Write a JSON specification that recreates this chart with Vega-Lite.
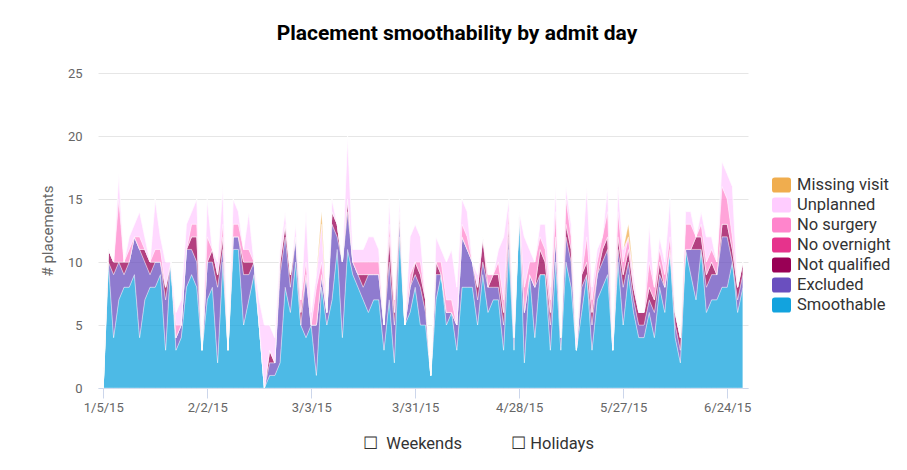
{
  "$schema": "https://vega.github.io/schema/vega-lite/v6.json",
  "width": 650,
  "height": 315,
  "autosize": {"type": "none"},
  "padding": {"left": 98, "top": 73, "right": 159, "bottom": 82},
  "background": "white",
  "title": {"text": "Placement smoothability by admit day", "font": "Roboto", "fontSize": 21, "fontWeight": "bold", "color": "#000000", "anchor": "middle", "dx": 34, "offset": 23},
  "datasets": {
    "ord": [
      {"k": "S", "name": "Smoothable", "o": 0},
      {"k": "E", "name": "Excluded", "o": 1},
      {"k": "Q", "name": "Not qualified", "o": 2},
      {"k": "O", "name": "No overnight", "o": 3},
      {"k": "N", "name": "No surgery", "o": 4},
      {"k": "U", "name": "Unplanned", "o": 5},
      {"k": "M", "name": "Missing visit", "o": 6}
    ],
    "t": [
      {"d": "1/5/15", "S": 0, "E": 0, "Q": 0, "O": 0, "N": 0, "U": 0, "M": 0},
      {"d": "1/6/15", "S": 10, "E": 0, "Q": 1, "O": 0, "N": 0, "U": 0, "M": 0},
      {"d": "1/7/15", "S": 4, "E": 5, "Q": 1, "O": 0, "N": 0, "U": 0, "M": 0},
      {"d": "1/8/15", "S": 7, "E": 3, "Q": 0, "O": 0, "N": 5, "U": 2, "M": 0},
      {"d": "1/9/15", "S": 8, "E": 1, "Q": 1, "O": 0, "N": 0, "U": 0, "M": 0},
      {"d": "1/12/15", "S": 8, "E": 2, "Q": 0, "O": 0, "N": 1, "U": 1, "M": 0},
      {"d": "1/13/15", "S": 9, "E": 3, "Q": 0, "O": 0, "N": 0, "U": 1, "M": 0},
      {"d": "1/14/15", "S": 4, "E": 7, "Q": 0, "O": 0, "N": 1, "U": 2, "M": 0},
      {"d": "1/15/15", "S": 7, "E": 3, "Q": 1, "O": 0, "N": 0, "U": 1, "M": 0},
      {"d": "1/16/15", "S": 8, "E": 1, "Q": 1, "O": 0, "N": 0, "U": 0, "M": 0},
      {"d": "1/19/15", "S": 8, "E": 2, "Q": 0, "O": 0, "N": 1, "U": 4, "M": 0},
      {"d": "1/20/15", "S": 9, "E": 1, "Q": 0, "O": 0, "N": 1, "U": 1, "M": 0},
      {"d": "1/21/15", "S": 3, "E": 4, "Q": 1, "O": 0, "N": 0, "U": 2, "M": 0},
      {"d": "1/22/15", "S": 10, "E": 0, "Q": 0, "O": 0, "N": 0, "U": 0, "M": 0},
      {"d": "1/23/15", "S": 3, "E": 1, "Q": 0, "O": 0, "N": 1, "U": 1, "M": 0},
      {"d": "1/26/15", "S": 4, "E": 1, "Q": 0, "O": 0, "N": 0, "U": 2, "M": 0},
      {"d": "1/27/15", "S": 8, "E": 3, "Q": 0, "O": 0, "N": 0, "U": 2, "M": 0},
      {"d": "1/28/15", "S": 9, "E": 2, "Q": 1, "O": 0, "N": 1, "U": 1, "M": 0},
      {"d": "1/29/15", "S": 8, "E": 2, "Q": 2, "O": 0, "N": 1, "U": 2, "M": 0},
      {"d": "1/30/15", "S": 3, "E": 0, "Q": 0, "O": 0, "N": 0, "U": 0, "M": 0},
      {"d": "2/2/15", "S": 7, "E": 3, "Q": 0, "O": 0, "N": 2, "U": 3, "M": 0},
      {"d": "2/3/15", "S": 8, "E": 2, "Q": 1, "O": 0, "N": 0, "U": 0, "M": 0},
      {"d": "2/4/15", "S": 2, "E": 6, "Q": 1, "O": 0, "N": 0, "U": 1, "M": 0},
      {"d": "2/5/15", "S": 10, "E": 1, "Q": 1, "O": 0, "N": 1, "U": 3, "M": 0},
      {"d": "2/6/15", "S": 3, "E": 0, "Q": 0, "O": 0, "N": 0, "U": 0, "M": 0},
      {"d": "2/9/15", "S": 11, "E": 1, "Q": 0, "O": 0, "N": 1, "U": 2, "M": 0},
      {"d": "2/10/15", "S": 11, "E": 1, "Q": 0, "O": 0, "N": 1, "U": 1, "M": 0},
      {"d": "2/11/15", "S": 5, "E": 4, "Q": 1, "O": 0, "N": 1, "U": 0, "M": 0},
      {"d": "2/12/15", "S": 7, "E": 2, "Q": 1, "O": 0, "N": 1, "U": 3, "M": 0},
      {"d": "2/13/15", "S": 9, "E": 1, "Q": 0, "O": 0, "N": 0, "U": 0, "M": 0},
      {"d": "2/17/15", "S": 5, "E": 0, "Q": 0, "O": 0, "N": 0, "U": 2, "M": 0},
      {"d": "2/18/15", "S": 0, "E": 0, "Q": 0, "O": 0, "N": 0, "U": 5, "M": 0},
      {"d": "2/19/15", "S": 1, "E": 1, "Q": 1, "O": 0, "N": 0, "U": 2, "M": 0},
      {"d": "2/20/15", "S": 1, "E": 1, "Q": 0, "O": 0, "N": 0, "U": 2, "M": 0},
      {"d": "2/23/15", "S": 2, "E": 7, "Q": 1, "O": 0, "N": 0, "U": 1, "M": 0},
      {"d": "2/24/15", "S": 8, "E": 4, "Q": 1, "O": 0, "N": 0, "U": 1, "M": 0},
      {"d": "2/25/15", "S": 6, "E": 2, "Q": 1, "O": 0, "N": 0, "U": 0, "M": 0},
      {"d": "2/26/15", "S": 10, "E": 2, "Q": 0, "O": 0, "N": 0, "U": 1, "M": 0},
      {"d": "2/27/15", "S": 5, "E": 0, "Q": 1, "O": 0, "N": 1, "U": 0, "M": 0},
      {"d": "3/2/15", "S": 4, "E": 5, "Q": 0, "O": 0, "N": 1, "U": 4, "M": 0},
      {"d": "3/3/15", "S": 5, "E": 0, "Q": 0, "O": 0, "N": 0, "U": 1, "M": 0},
      {"d": "3/4/15", "S": 1, "E": 4, "Q": 0, "O": 0, "N": 3, "U": 1, "M": 0},
      {"d": "3/5/15", "S": 8, "E": 1, "Q": 0, "O": 0, "N": 1, "U": 3, "M": 1},
      {"d": "3/6/15", "S": 5, "E": 1, "Q": 0, "O": 0, "N": 0, "U": 0, "M": 0},
      {"d": "3/9/15", "S": 7, "E": 6, "Q": 1, "O": 0, "N": 0, "U": 1, "M": 0},
      {"d": "3/10/15", "S": 11, "E": 1, "Q": 1, "O": 0, "N": 0, "U": 0, "M": 0},
      {"d": "3/11/15", "S": 4, "E": 6, "Q": 0, "O": 0, "N": 0, "U": 0, "M": 0},
      {"d": "3/12/15", "S": 11, "E": 3, "Q": 1, "O": 0, "N": 0, "U": 5, "M": 0},
      {"d": "3/13/15", "S": 9, "E": 1, "Q": 0, "O": 0, "N": 0, "U": 1, "M": 0},
      {"d": "3/16/15", "S": 8, "E": 1, "Q": 0, "O": 0, "N": 1, "U": 1, "M": 0},
      {"d": "3/17/15", "S": 7, "E": 1, "Q": 1, "O": 0, "N": 1, "U": 1, "M": 0},
      {"d": "3/18/15", "S": 6, "E": 3, "Q": 0, "O": 0, "N": 1, "U": 2, "M": 0},
      {"d": "3/19/15", "S": 7, "E": 2, "Q": 0, "O": 0, "N": 1, "U": 2, "M": 0},
      {"d": "3/20/15", "S": 7, "E": 2, "Q": 0, "O": 0, "N": 1, "U": 1, "M": 0},
      {"d": "3/23/15", "S": 3, "E": 2, "Q": 0, "O": 0, "N": 0, "U": 0, "M": 0},
      {"d": "3/24/15", "S": 7, "E": 3, "Q": 2, "O": 0, "N": 1, "U": 2, "M": 0},
      {"d": "3/25/15", "S": 2, "E": 3, "Q": 1, "O": 0, "N": 1, "U": 0, "M": 0},
      {"d": "3/26/15", "S": 12, "E": 1, "Q": 1, "O": 0, "N": 0, "U": 1, "M": 0},
      {"d": "3/27/15", "S": 5, "E": 0, "Q": 0, "O": 0, "N": 0, "U": 0, "M": 0},
      {"d": "3/30/15", "S": 6, "E": 2, "Q": 0, "O": 0, "N": 1, "U": 3, "M": 0},
      {"d": "3/31/15", "S": 8, "E": 1, "Q": 1, "O": 0, "N": 0, "U": 3, "M": 0},
      {"d": "4/1/15", "S": 5, "E": 3, "Q": 1, "O": 0, "N": 1, "U": 2, "M": 0},
      {"d": "4/2/15", "S": 5, "E": 1, "Q": 1, "O": 0, "N": 0, "U": 0, "M": 0},
      {"d": "4/3/15", "S": 1, "E": 0, "Q": 0, "O": 0, "N": 0, "U": 0, "M": 0},
      {"d": "4/6/15", "S": 7, "E": 2, "Q": 1, "O": 0, "N": 0, "U": 2, "M": 0},
      {"d": "4/7/15", "S": 9, "E": 0, "Q": 0, "O": 0, "N": 1, "U": 1, "M": 0},
      {"d": "4/8/15", "S": 5, "E": 1, "Q": 0, "O": 0, "N": 1, "U": 3, "M": 0},
      {"d": "4/9/15", "S": 6, "E": 0, "Q": 0, "O": 0, "N": 1, "U": 4, "M": 0},
      {"d": "4/10/15", "S": 3, "E": 2, "Q": 0, "O": 0, "N": 0, "U": 3, "M": 0},
      {"d": "4/13/15", "S": 8, "E": 4, "Q": 0, "O": 0, "N": 1, "U": 2, "M": 0},
      {"d": "4/14/15", "S": 8, "E": 3, "Q": 0, "O": 0, "N": 1, "U": 2, "M": 0},
      {"d": "4/15/15", "S": 8, "E": 2, "Q": 0, "O": 0, "N": 0, "U": 0, "M": 0},
      {"d": "4/16/15", "S": 5, "E": 2, "Q": 1, "O": 0, "N": 0, "U": 1, "M": 0},
      {"d": "4/17/15", "S": 9, "E": 1, "Q": 2, "O": 0, "N": 0, "U": 0, "M": 0},
      {"d": "4/20/15", "S": 6, "E": 2, "Q": 0, "O": 0, "N": 1, "U": 0, "M": 0},
      {"d": "4/21/15", "S": 7, "E": 1, "Q": 1, "O": 0, "N": 0, "U": 0, "M": 0},
      {"d": "4/22/15", "S": 7, "E": 1, "Q": 1, "O": 0, "N": 1, "U": 1, "M": 0},
      {"d": "4/23/15", "S": 3, "E": 2, "Q": 1, "O": 0, "N": 1, "U": 5, "M": 0},
      {"d": "4/24/15", "S": 11, "E": 1, "Q": 1, "O": 0, "N": 1, "U": 1, "M": 0},
      {"d": "4/27/15", "S": 3, "E": 1, "Q": 0, "O": 0, "N": 0, "U": 1, "M": 0},
      {"d": "4/28/15", "S": 14, "E": 0, "Q": 0, "O": 0, "N": 0, "U": 0, "M": 0},
      {"d": "4/29/15", "S": 2, "E": 4, "Q": 0, "O": 0, "N": 2, "U": 4, "M": 0},
      {"d": "4/30/15", "S": 9, "E": 0, "Q": 0, "O": 0, "N": 1, "U": 1, "M": 0},
      {"d": "5/1/15", "S": 4, "E": 4, "Q": 0, "O": 0, "N": 2, "U": 0, "M": 0},
      {"d": "5/4/15", "S": 9, "E": 0, "Q": 2, "O": 0, "N": 1, "U": 1, "M": 0},
      {"d": "5/5/15", "S": 9, "E": 0, "Q": 1, "O": 0, "N": 1, "U": 2, "M": 0},
      {"d": "5/6/15", "S": 3, "E": 2, "Q": 1, "O": 0, "N": 1, "U": 1, "M": 0},
      {"d": "5/7/15", "S": 10, "E": 2, "Q": 0, "O": 0, "N": 2, "U": 2, "M": 0},
      {"d": "5/8/15", "S": 3, "E": 1, "Q": 0, "O": 0, "N": 0, "U": 0, "M": 0},
      {"d": "5/11/15", "S": 10, "E": 2, "Q": 1, "O": 0, "N": 2, "U": 1, "M": 0},
      {"d": "5/12/15", "S": 8, "E": 2, "Q": 1, "O": 0, "N": 1, "U": 1, "M": 0},
      {"d": "5/13/15", "S": 3, "E": 0, "Q": 0, "O": 0, "N": 0, "U": 1, "M": 0},
      {"d": "5/14/15", "S": 6, "E": 2, "Q": 1, "O": 0, "N": 0, "U": 1, "M": 0},
      {"d": "5/15/15", "S": 9, "E": 0, "Q": 1, "O": 0, "N": 2, "U": 4, "M": 0},
      {"d": "5/18/15", "S": 3, "E": 2, "Q": 1, "O": 0, "N": 1, "U": 1, "M": 0},
      {"d": "5/19/15", "S": 7, "E": 2, "Q": 0, "O": 0, "N": 1, "U": 1, "M": 0},
      {"d": "5/20/15", "S": 8, "E": 2, "Q": 1, "O": 0, "N": 1, "U": 0, "M": 0},
      {"d": "5/21/15", "S": 9, "E": 2, "Q": 1, "O": 0, "N": 2, "U": 2, "M": 0},
      {"d": "5/22/15", "S": 3, "E": 0, "Q": 0, "O": 0, "N": 0, "U": 1, "M": 0},
      {"d": "5/26/15", "S": 10, "E": 1, "Q": 1, "O": 0, "N": 2, "U": 2, "M": 0},
      {"d": "5/27/15", "S": 5, "E": 3, "Q": 1, "O": 0, "N": 1, "U": 1, "M": 0},
      {"d": "5/28/15", "S": 9, "E": 1, "Q": 1, "O": 0, "N": 1, "U": 0, "M": 1},
      {"d": "5/29/15", "S": 6, "E": 1, "Q": 1, "O": 0, "N": 0, "U": 1, "M": 0},
      {"d": "6/1/15", "S": 4, "E": 1, "Q": 1, "O": 0, "N": 0, "U": 0, "M": 0},
      {"d": "6/2/15", "S": 4, "E": 1, "Q": 1, "O": 0, "N": 0, "U": 0, "M": 0},
      {"d": "6/3/15", "S": 6, "E": 1, "Q": 1, "O": 0, "N": 2, "U": 3, "M": 0},
      {"d": "6/4/15", "S": 4, "E": 2, "Q": 1, "O": 0, "N": 1, "U": 0, "M": 0},
      {"d": "6/5/15", "S": 8, "E": 1, "Q": 1, "O": 0, "N": 1, "U": 1, "M": 0},
      {"d": "6/8/15", "S": 6, "E": 2, "Q": 0, "O": 0, "N": 1, "U": 1, "M": 0},
      {"d": "6/9/15", "S": 11, "E": 0, "Q": 0, "O": 0, "N": 1, "U": 3, "M": 0},
      {"d": "6/10/15", "S": 4, "E": 1, "Q": 1, "O": 0, "N": 0, "U": 0, "M": 0},
      {"d": "6/11/15", "S": 2, "E": 1, "Q": 1, "O": 0, "N": 0, "U": 0, "M": 0},
      {"d": "6/12/15", "S": 11, "E": 0, "Q": 0, "O": 0, "N": 2, "U": 1, "M": 0},
      {"d": "6/15/15", "S": 9, "E": 2, "Q": 0, "O": 0, "N": 2, "U": 1, "M": 0},
      {"d": "6/16/15", "S": 7, "E": 4, "Q": 1, "O": 0, "N": 0, "U": 0, "M": 0},
      {"d": "6/17/15", "S": 11, "E": 0, "Q": 1, "O": 0, "N": 1, "U": 1, "M": 0},
      {"d": "6/18/15", "S": 6, "E": 2, "Q": 1, "O": 0, "N": 1, "U": 2, "M": 0},
      {"d": "6/19/15", "S": 7, "E": 2, "Q": 1, "O": 0, "N": 1, "U": 1, "M": 0},
      {"d": "6/22/15", "S": 7, "E": 2, "Q": 0, "O": 0, "N": 1, "U": 0, "M": 0},
      {"d": "6/23/15", "S": 8, "E": 4, "Q": 1, "O": 0, "N": 3, "U": 2, "M": 0},
      {"d": "6/24/15", "S": 8, "E": 4, "Q": 1, "O": 0, "N": 2, "U": 2, "M": 0},
      {"d": "6/25/15", "S": 10, "E": 0, "Q": 1, "O": 0, "N": 1, "U": 4, "M": 0},
      {"d": "6/26/15", "S": 6, "E": 1, "Q": 1, "O": 0, "N": 0, "U": 0, "M": 0},
      {"d": "6/29/15", "S": 8, "E": 1, "Q": 1, "O": 0, "N": 0, "U": 0, "M": 0}
    ]
  },
  "data": {"name": "t"},
  "transform": [
    {"fold": ["S", "E", "Q", "O", "N", "U", "M"], "as": ["k", "v"]},
    {"lookup": "k", "from": {"data": {"name": "ord"}, "key": "k", "fields": ["name", "o"]}}
  ],
  "mark": {"type": "area", "fillOpacity": 0.75, "stroke": "#ffffff", "strokeWidth": 0.7, "strokeOpacity": 0.5},
  "encoding": {
    "x": {
      "field": "d", "type": "ordinal", "sort": null,
      "scale": {"type": "point", "padding": 1},
      "axis": {
        "values": ["1/5/15", "2/2/15", "3/3/15", "3/31/15", "4/28/15", "5/27/15", "6/24/15"],
        "labelAngle": 0, "labelFont": "Roboto", "labelFontSize": 13, "labelColor": "#666666",
        "domainColor": "#ccd6eb", "tickColor": "#ccd6eb", "tickSize": 10, "labelPadding": 3,
        "grid": false,
        "title": "☐\u00a0\u00a0Weekends\u00a0\u00a0\u00a0\u00a0\u00a0\u00a0\u00a0\u00a0\u00a0\u00a0\u00a0\u00a0☐\u00a0Holidays",
        "titleFont": "Roboto", "titleFontSize": 16.5, "titleColor": "#333333", "titleFontWeight": "normal",
        "titlePadding": 21, "titleX": 380, "titleAlign": "center"
      }
    },
    "y": {
      "field": "v", "type": "quantitative", "stack": "zero",
      "scale": {"domain": [0, 25]},
      "axis": {
        "values": [0, 5, 10, 15, 20, 25],
        "title": "# placements", "titleFont": "Roboto", "titleFontSize": 15, "titleColor": "#666666", "titleFontWeight": "normal", "titlePadding": 12,
        "labelFont": "Roboto", "labelFontSize": 13, "labelColor": "#666666", "labelPadding": 16,
        "ticks": false, "domain": false, "gridColor": "#e6e6e6"
      }
    },
    "color": {
      "field": "name", "type": "nominal",
      "scale": {
        "domain": ["Missing visit", "Unplanned", "No surgery", "No overnight", "Not qualified", "Excluded", "Smoothable"],
        "range": ["#f0ad4e", "#ffccff", "#ff85cc", "#e6338c", "#990055", "#6a4fbf", "#12a3de"]
      },
      "legend": {
        "title": null, "orient": "none", "legendX": 674, "legendY": 102.5,
        "labelFont": "Roboto", "labelFontSize": 16.5, "labelColor": "#333333",
        "symbolType": "M -0.7 -0.79 L 0.7 -0.79 Q 1 -0.79 1 -0.49 L 1 0.49 Q 1 0.79 0.7 0.79 L -0.7 0.79 Q -1 0.79 -1 0.49 L -1 -0.49 Q -1 -0.79 -0.7 -0.79 Z",
        "symbolSize": 361, "symbolOpacity": 1, "symbolStrokeWidth": 0, "rowPadding": 2, "labelOffset": 6
      }
    },
    "order": {"field": "o", "type": "quantitative", "sort": "ascending"}
  },
  "config": {"view": {"stroke": null}, "font": "Roboto"}
}
